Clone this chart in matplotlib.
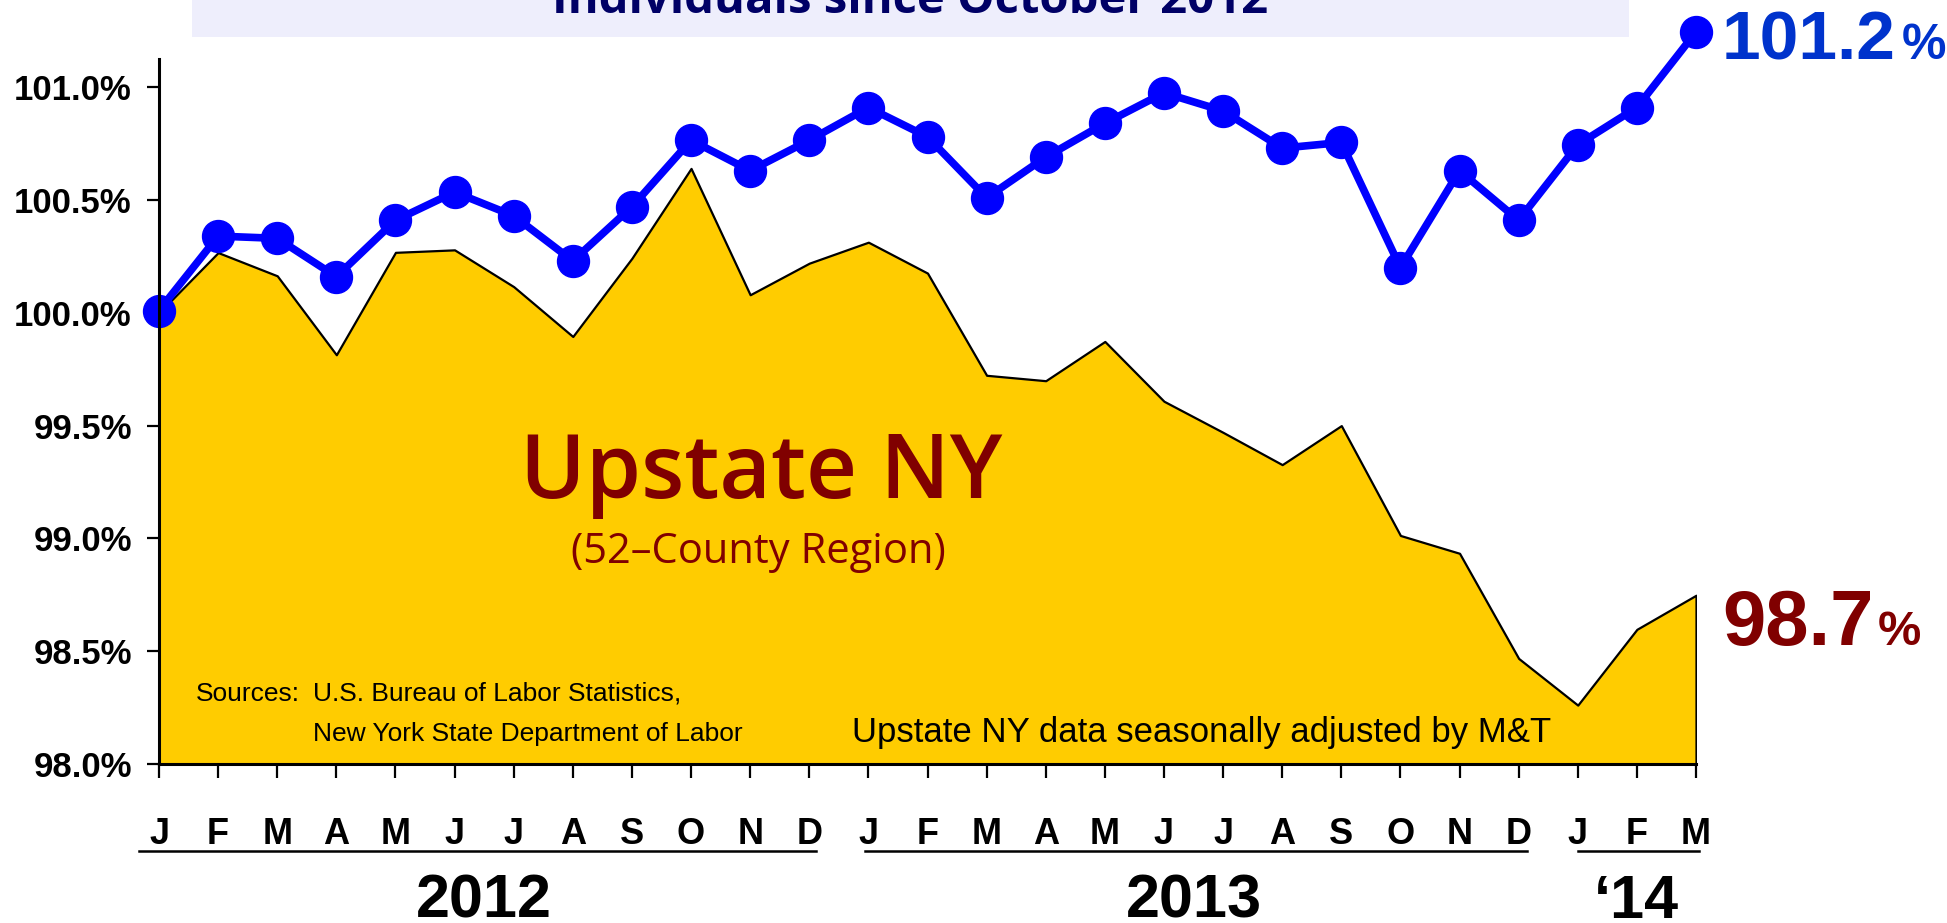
import matplotlib
matplotlib.use('Agg')
import matplotlib.pyplot as plt
from matplotlib import font_manager
from matplotlib.transforms import blended_transform_factory
from matplotlib.patches import Rectangle
from matplotlib.lines import Line2D

# ---------------- data ----------------
months = ['J', 'F', 'M', 'A', 'M', 'J', 'J', 'A', 'S', 'O', 'N', 'D',
          'J', 'F', 'M', 'A', 'M', 'J', 'J', 'A', 'S', 'O', 'N', 'D',
          'J', 'F', 'M']
years = ['2012', '2013', '\u201814']
year_month_spans = [(0, 11), (12, 23), (24, 26)]

us_index = [100.01, 100.34, 100.33, 100.16, 100.41, 100.535, 100.43, 100.23,
            100.47, 100.765, 100.63, 100.765, 100.91, 100.78, 100.51, 100.69,
            100.84, 100.975, 100.895, 100.73, 100.755, 100.20, 100.63, 100.41,
            100.745, 100.91, 101.245]
upstate_index = [100.0, 100.267, 100.164, 99.814, 100.268, 100.279, 100.116,
                 99.895, 100.242, 100.64, 100.08, 100.22, 100.313, 100.176,
                 99.723, 99.699, 99.873, 99.608, 99.47, 99.327, 99.50, 99.013,
                 98.934, 98.468, 98.261, 98.597, 98.748]
yticks = [98.0, 98.5, 99.0, 99.5, 100.0, 100.5, 101.0]
us_end_label = '101.2'
upstate_end_label = '98.7'
title_text = 'Individuals since October 2012'
region_title = 'Upstate NY'
region_sub = '(52\u2013County Region)'
sources_head = 'Sources:'
sources_lines = ['U.S. Bureau of Labor Statistics,', 'New York State Department of Labor']
note_text = 'Upstate NY data seasonally adjusted by M&T'

# ---------------- layout ----------------
W, H = 1947, 923
fig = plt.figure(figsize=(W / 100, H / 100), dpi=100)


def fx(px):
    return px / W


def fy(py):
    return 1 - py / H


names = {f.name for f in font_manager.fontManager.ttflist}
sans = 'Liberation Sans'
narrow = 'Liberation Sans Narrow' if 'Liberation Sans Narrow' in names else sans
month_size = 27 if narrow != sans else 26
humanist = 'Open Sans'

# title box
fig.patches.append(Rectangle((fx(192), fy(37)), fx(1629) - fx(192), 37 / H,
                             transform=fig.transFigure, facecolor='#EEEEFC',
                             edgecolor='none', zorder=0))
fig.text(fx(910), fy(13), title_text, ha='center', va='baseline', fontsize=34,
         fontweight='bold', color='#000066', family=humanist)

ax = fig.add_axes([fx(159), fy(764), fx(1696) - fx(159), fy(59) - fy(764)])
ax.patch.set_alpha(0)
x = list(range(len(months)))

ax.fill_between(x, 98.0, upstate_index, facecolor='#FFCC00', edgecolor='black',
                linewidth=1.6, zorder=2)
ax.plot(x, us_index, color='#0000FF', lw=5.5, marker='o', ms=23, clip_on=False,
        zorder=5)

ax.set_xlim(0, len(months) - 1)
ax.set_ylim(98.0, 98.0 + (764 - 59) / 225.6)

for s in ['top', 'right']:
    ax.spines[s].set_visible(False)
for s in ['left', 'bottom']:
    ax.spines[s].set_linewidth(2.2)
    ax.spines[s].set_color('black')
    ax.spines[s].set_zorder(6)

ax.set_yticks(yticks, labels=[f'{v:.1f}%' for v in yticks])
ax.tick_params(axis='y', length=8.6, width=1.6, pad=11, labelsize=25)
for lab in ax.get_yticklabels():
    lab.set_fontweight('bold')
    lab.set_family(sans)
ax.set_xticks(x)
ax.set_xticklabels([])
ax.tick_params(axis='x', length=10, width=1.6)

tr = blended_transform_factory(ax.transData, fig.transFigure)
for i, m in enumerate(months):
    fig.text(i, fy(844), m, transform=tr, ha='center', va='baseline',
             fontsize=month_size, fontweight='bold', family=narrow)

underline_px = [(139, 816), (865, 1527), (1578, 1699)]
for (a, b) in underline_px:
    fig.add_artist(Line2D([fx(a), fx(b)], [fy(851), fy(851)],
                          transform=fig.transFigure, color='black', lw=1.8))
for yr, (s0, s1) in zip(years, year_month_spans):
    fig.text((s0 + s1) / 2, fy(918), yr, transform=tr, ha='center',
             va='baseline', fontsize=44, fontweight='bold', family=sans)

# annotations inside chart
fig.text(fx(761), fy(498), region_title, ha='center', va='baseline',
         fontsize=64, color='#800000', family=humanist, fontweight='semibold',
         zorder=10)
fig.text(fx(758), fy(563), region_sub, ha='center', va='baseline',
         fontsize=30, color='#800000', family=humanist, zorder=10)
fig.text(fx(196), fy(701), sources_head, ha='left', va='baseline',
         fontsize=19, family=sans, zorder=10)
fig.text(fx(313), fy(701), sources_lines[0], ha='left', va='baseline',
         fontsize=19, family=sans, zorder=10)
fig.text(fx(313), fy(741), sources_lines[1], ha='left', va='baseline',
         fontsize=19, family=sans, zorder=10)
fig.text(fx(852), fy(742), note_text, ha='left', va='baseline',
         fontsize=25, family=sans, zorder=10)

# end labels
renderer = fig.canvas.get_renderer()
t1 = fig.text(fx(1722), fy(59), us_end_label, ha='left', va='baseline',
              fontsize=50, fontweight='bold', color='#0033CC', family=sans)
e1 = t1.get_window_extent(renderer)
fig.text(fx(e1.x1 + 6), fy(59), '%', ha='left', va='baseline', fontsize=36,
         fontweight='bold', color='#0033CC', family=sans)
t2 = fig.text(fx(1722), fy(645), upstate_end_label, ha='left', va='baseline',
              fontsize=56, fontweight='bold', color='#800000', family=sans)
e2 = t2.get_window_extent(renderer)
fig.text(fx(e2.x1 + 4), fy(645), '%', ha='left', va='baseline', fontsize=35,
         fontweight='bold', color='#800000', family=sans)

fig.savefig('out.png', dpi=100)
